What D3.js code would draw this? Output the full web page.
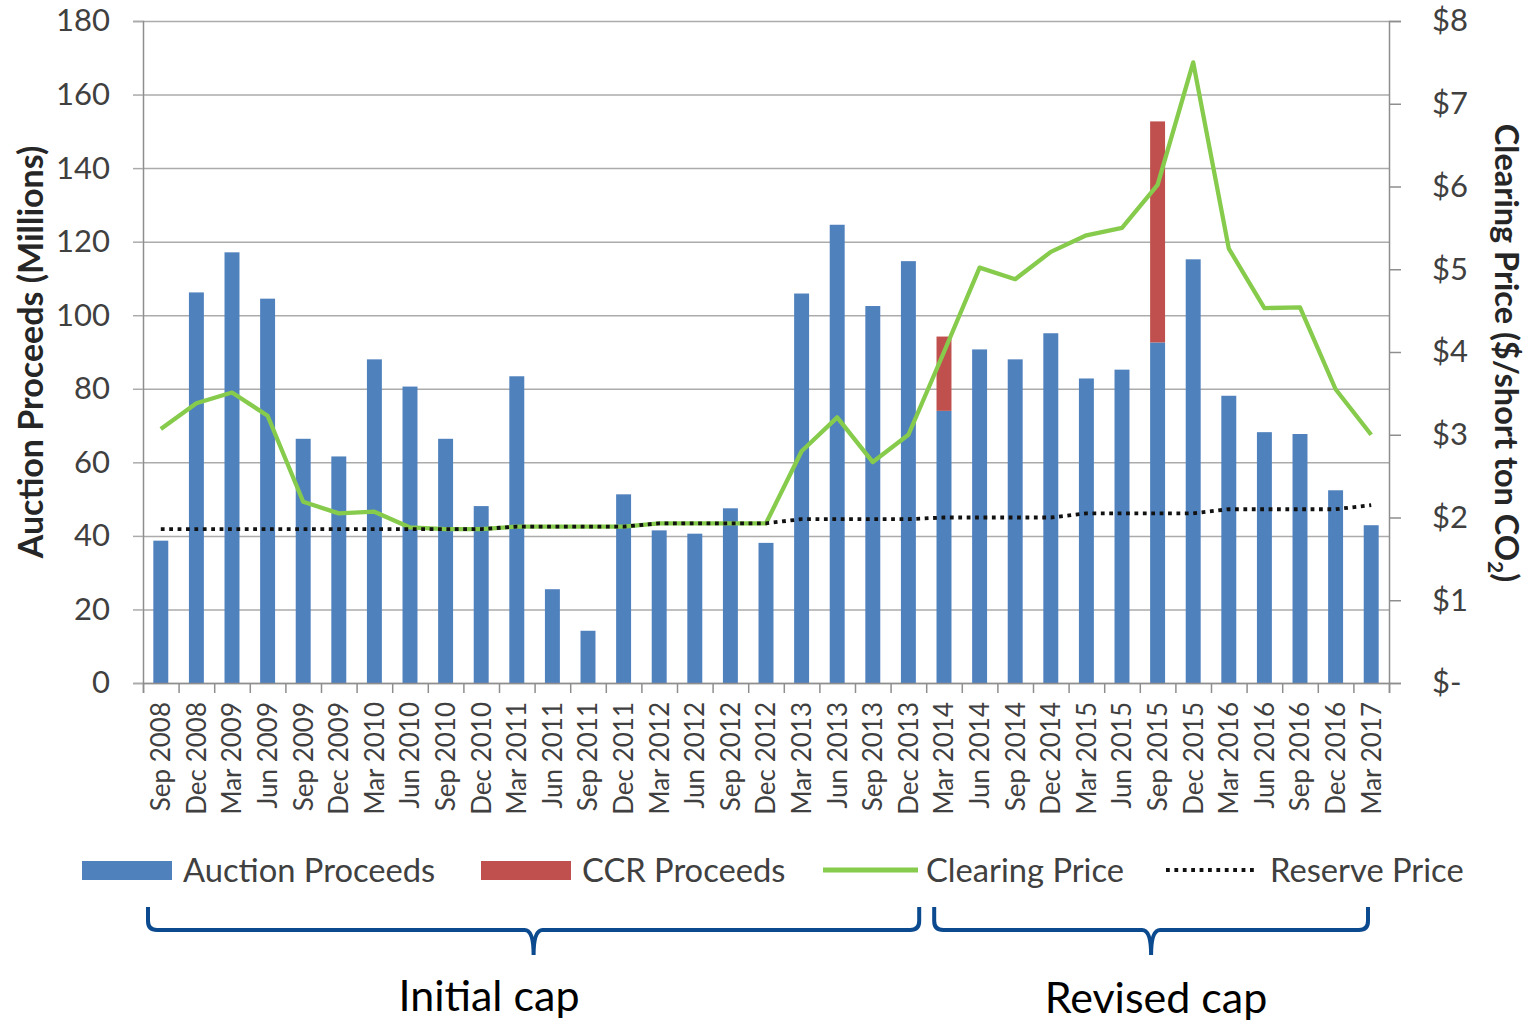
<!DOCTYPE html>
<html><head><meta charset="utf-8">
<script src="https://cdn.jsdelivr.net/npm/d3@7"></script>
<style>
html,body{margin:0;padding:0;background:#fff;}
svg{display:block;}
text{font-family:Lato,"Open Sans",sans-serif;}
</style></head>
<body>
<svg id="chart" width="1527" height="1024"></svg>
<script>
const categories = ["Sep 2008","Dec 2008","Mar 2009","Jun 2009","Sep 2009","Dec 2009","Mar 2010","Jun 2010","Sep 2010","Dec 2010","Mar 2011","Jun 2011","Sep 2011","Dec 2011","Mar 2012","Jun 2012","Sep 2012","Dec 2012","Mar 2013","Jun 2013","Sep 2013","Dec 2013","Mar 2014","Jun 2014","Sep 2014","Dec 2014","Mar 2015","Jun 2015","Sep 2015","Dec 2015","Mar 2016","Jun 2016","Sep 2016","Dec 2016","Mar 2017"];
const auctionProceeds = [38.7,106.2,117.1,104.5,66.4,61.6,88.0,80.6,66.4,48.1,83.4,25.5,14.2,51.3,41.5,40.6,47.5,38.1,105.9,124.6,102.5,114.7,74.0,90.7,88.0,95.1,82.8,85.2,92.6,115.2,78.1,68.2,67.7,52.4,42.9];
const ccrProceeds = [0,0,0,0,0,0,0,0,0,0,0,0,0,0,0,0,0,0,0,0,0,0,20.2,0,0,0,0,0,60.1,0,0,0,0,0,0];
const clearingPrice = [3.07,3.38,3.51,3.23,2.19,2.05,2.07,1.88,1.86,1.86,1.89,1.89,1.89,1.89,1.93,1.93,1.93,1.93,2.80,3.21,2.67,3.00,4.00,5.02,4.88,5.21,5.41,5.50,6.02,7.50,5.25,4.53,4.54,3.55,3.00];
const reservePrice = [1.86,1.86,1.86,1.86,1.86,1.86,1.86,1.86,1.86,1.86,1.89,1.89,1.89,1.89,1.93,1.93,1.93,1.93,1.98,1.98,1.98,1.98,2.00,2.00,2.00,2.00,2.05,2.05,2.05,2.05,2.10,2.10,2.10,2.10,2.15];
const leftTicks = [0,20,40,60,80,100,120,140,160,180];
const rightTicks = [0,1,2,3,4,5,6,7,8];
const legendLabels = ["Auction Proceeds","CCR Proceeds","Clearing Price","Reserve Price"];
const periodLabels = ["Initial cap","Revised cap"];

const svg = d3.select("#chart");
const X0 = 143, X1 = 1389, Y0 = 683, Y1 = 21;
const BLUE = "#4F81BD", RED = "#C0504D", GREEN = "#86CB4C", GRID = "#ABABAB", AXIS = "#8E8E8E", TXT = "#404040";

const xCat = d3.scaleBand().domain(categories).range([X0, X1]).padding(0);
const xBar = d3.scaleBand().domain(categories).range([X0, X1]).paddingInner(0.58).paddingOuter(0.29);
const xIdx = d3.scaleLinear().domain([0, categories.length]).range([X0, X1]);
const yL = d3.scaleLinear().domain([0, 180]).range([Y0, Y1]);
const yR = d3.scaleLinear().domain([0, 8]).range([Y0, Y1]);
const cx = c => xCat(c) + xCat.bandwidth() / 2;

// gridlines
const grid = svg.append("g").attr("transform", `translate(${X0},0)`)
  .call(d3.axisLeft(yL).tickValues(leftTicks).tickSize(-(X1 - X0)).tickFormat(""));
grid.select(".domain").remove();
grid.selectAll("line").attr("stroke", GRID).attr("stroke-width", 1.5);

// bars
const stackData = categories.map((c, i) => ({c, a: auctionProceeds[i], r: ccrProceeds[i]}));
svg.append("g").selectAll("rect").data(stackData).join("rect")
  .attr("x", d => xBar(d.c)).attr("width", xBar.bandwidth())
  .attr("y", d => yL(d.a)).attr("height", d => yL(0) - yL(d.a))
  .attr("fill", BLUE);
svg.append("g").selectAll("rect").data(stackData.filter(d => d.r > 0)).join("rect")
  .attr("x", d => xBar(d.c)).attr("width", xBar.bandwidth())
  .attr("y", d => yL(d.a + d.r)).attr("height", d => yL(d.a) - yL(d.a + d.r))
  .attr("fill", RED);

// left axis
const la = svg.append("g").attr("transform", `translate(${X0},0)`)
  .call(d3.axisLeft(yL).tickValues(leftTicks).tickSize(10).tickPadding(23));
la.select(".domain").attr("stroke", AXIS).attr("stroke-width", 1.5);
la.selectAll("line").attr("stroke", GRID).attr("stroke-width", 1.5);
la.selectAll("text").attr("font-size", 31).attr("fill", TXT).attr("font-family", "Lato");

// right axis
const ra = svg.append("g").attr("transform", `translate(${X1},0)`)
  .call(d3.axisRight(yR).tickValues(rightTicks).tickSize(12).tickPadding(31)
    .tickFormat(d => d === 0 ? "$-" : "$" + d));
ra.select(".domain").attr("stroke", AXIS).attr("stroke-width", 1.5);
ra.selectAll("line").attr("stroke", AXIS).attr("stroke-width", 1.5);
ra.selectAll("text").attr("font-size", 31).attr("fill", TXT).attr("font-family", "Lato");

// bottom axis: boundary ticks
const ba = svg.append("g").attr("transform", `translate(0,${Y0})`)
  .call(d3.axisBottom(xIdx).tickValues(d3.range(categories.length + 1)).tickSize(10).tickFormat(""));
ba.select(".domain").attr("stroke", AXIS).attr("stroke-width", 1.5);
ba.selectAll("line").attr("stroke", AXIS).attr("stroke-width", 1.5);
// bottom labels
const bl = svg.append("g").attr("transform", `translate(0,${Y0})`)
  .call(d3.axisBottom(xCat).tickSize(0).tickPadding(0));
bl.select(".domain").remove();
bl.selectAll("text")
  .attr("font-size", 26).attr("fill", TXT).attr("font-family", "Lato")
  .attr("text-anchor", "end")
  .attr("transform", "translate(0,19) rotate(-90)")
  .attr("x", 0).attr("y", 0).attr("dy", "0.36em");

// lines
const line = d3.line().x((d, i) => cx(categories[i])).y(d => yR(d));
svg.append("path").datum(clearingPrice).attr("d", line)
  .attr("fill", "none").attr("stroke", GREEN).attr("stroke-width", 4.3).attr("stroke-linejoin", "round");
svg.append("path").datum(reservePrice).attr("d", line)
  .attr("fill", "none").attr("stroke", "#111").attr("stroke-width", 3.8).attr("stroke-dasharray", "3.8 4.6");

// axis titles
svg.append("text").attr("transform", "translate(43,352) rotate(-90)")
  .attr("text-anchor", "middle").attr("font-size", 34).attr("font-weight", "bold").attr("fill", "#262626")
  .text("Auction Proceeds (Millions)");
const rt = svg.append("text").attr("transform", "translate(1495,353) rotate(90)")
  .attr("text-anchor", "middle").attr("font-size", 32.5).attr("font-weight", "bold").attr("fill", "#262626");
rt.append("tspan").text("Clearing Price ($/short ton CO");
rt.append("tspan").attr("font-size", 21).attr("dy", 7).text("2");
rt.append("tspan").attr("dy", -7).text(")");

// legend
const lg = svg.append("g");
lg.append("rect").attr("x", 82).attr("y", 861).attr("width", 90).attr("height", 19).attr("fill", BLUE);
lg.append("rect").attr("x", 481).attr("y", 861).attr("width", 90).attr("height", 19).attr("fill", RED);
lg.append("line").attr("x1", 823).attr("x2", 918).attr("y1", 870).attr("y2", 870).attr("stroke", GREEN).attr("stroke-width", 5);
lg.append("line").attr("x1", 1166).attr("x2", 1254).attr("y1", 870).attr("y2", 870).attr("stroke", "#111").attr("stroke-width", 3.8).attr("stroke-dasharray", "3.8 4.6");
const lx = [183, 582, 926, 1270];
lg.selectAll("text.lg").data(legendLabels).join("text").attr("class", "lg")
  .attr("x", (d, i) => lx[i]).attr("y", 882).attr("font-size", 32.7).attr("fill", TXT).text(d => d);

// braces
function brace(x1, x2, xm) {
  const y0 = 907, y1 = 930, y2 = 955, r = 9;
  const p = d3.path();
  p.moveTo(x1, y0); p.lineTo(x1, y1 - r); p.quadraticCurveTo(x1, y1, x1 + r, y1);
  p.lineTo(xm - r, y1); p.quadraticCurveTo(xm, y1, xm, y2);
  p.quadraticCurveTo(xm, y1, xm + r, y1);
  p.lineTo(x2 - r, y1); p.quadraticCurveTo(x2, y1, x2, y1 - r); p.lineTo(x2, y0);
  return p.toString();
}
const BR = "#0B4A8E";
const b1a = xCat(categories[0]) + 5, b1b = xCat(categories[21]) + xCat.bandwidth() - 7;
const b2a = xCat(categories[22]) + 8, b2b = xCat(categories[34]) + xCat.bandwidth() - 21;
svg.append("path").attr("d", brace(b1a, b1b, (b1a + b1b) / 2)).attr("fill", "none").attr("stroke", BR).attr("stroke-width", 4);
svg.append("path").attr("d", brace(b2a, b2b, (b2a + b2b) / 2)).attr("fill", "none").attr("stroke", BR).attr("stroke-width", 4);
svg.append("text").attr("x", 489).attr("y", 1011).attr("text-anchor", "middle").attr("font-size", 43).attr("fill", "#000").text(periodLabels[0]);
svg.append("text").attr("x", 1156).attr("y", 1013).attr("text-anchor", "middle").attr("font-size", 43).attr("fill", "#000").text(periodLabels[1]);
</script>
</body></html>
